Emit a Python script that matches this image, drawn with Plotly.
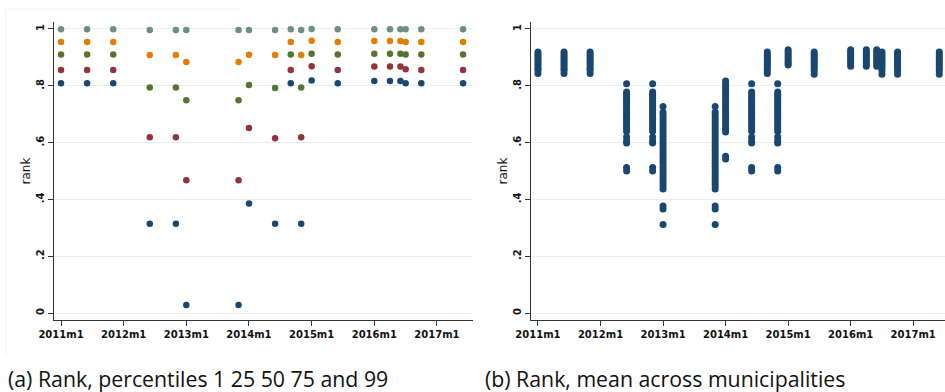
import plotly.graph_objects as go

W, H = 945, 392

# ---------------- data ----------------
dates = ["2011m1", "2011m6", "2011m11", "2012m6", "2012m11", "2013m1", "2013m11",
         "2014m1", "2014m6", "2014m9", "2014m11", "2015m1", "2015m6", "2016m1",
         "2016m4", "2016m6", "2016m7", "2016m10", "2017m6"]

p1 = [0.809, 0.809, 0.809, 0.314, 0.314, 0.028, 0.028, 0.386, 0.314, 0.809,
      0.314, 0.819, 0.809, 0.817, 0.817, 0.817, 0.809, 0.809, 0.809]
p25 = [0.856, 0.856, 0.856, 0.619, 0.619, 0.467, 0.467, 0.651, 0.615, 0.856,
       0.619, 0.869, 0.856, 0.868, 0.868, 0.868, 0.858, 0.856, 0.856]
p50 = [0.910, 0.910, 0.910, 0.794, 0.794, 0.749, 0.749, 0.803, 0.792, 0.910,
       0.794, 0.913, 0.910, 0.913, 0.913, 0.913, 0.910, 0.910, 0.910]
p75 = [0.954, 0.954, 0.954, 0.908, 0.908, 0.884, 0.884, 0.909, 0.908, 0.954,
       0.908, 0.959, 0.954, 0.958, 0.958, 0.958, 0.954, 0.954, 0.954]
p99 = [0.999, 0.999, 0.999, 0.996, 0.996, 0.996, 0.996, 0.996, 0.996, 0.999,
       0.996, 1.000, 0.999, 0.999, 0.999, 0.999, 0.999, 0.999, 0.999]

# mean rank across municipalities, one list per date
mean_2011m1 = [0.919, 0.912, 0.905, 0.898, 0.891, 0.884, 0.877, 0.870, 0.862, 0.855, 0.843]
mean_2011m6 = [0.919, 0.912, 0.905, 0.898, 0.891, 0.884, 0.877, 0.870, 0.862, 0.855, 0.843]
mean_2011m11 = [0.919, 0.912, 0.905, 0.898, 0.891, 0.884, 0.877, 0.870, 0.862, 0.855, 0.843]
mean_2012m6 = [0.807, 0.778, 0.770, 0.762, 0.754, 0.746, 0.738, 0.730, 0.722, 0.714, 0.706,
               0.698, 0.690, 0.682, 0.674, 0.666, 0.658, 0.650, 0.640, 0.620, 0.606, 0.599,
               0.512, 0.500]
mean_2012m11 = [0.807, 0.778, 0.770, 0.762, 0.754, 0.746, 0.738, 0.730, 0.722, 0.714, 0.706,
                0.698, 0.690, 0.682, 0.674, 0.666, 0.658, 0.650, 0.640, 0.620, 0.606, 0.599,
                0.512, 0.500]
mean_2013m1 = [0.727, 0.707, 0.697, 0.687, 0.677, 0.667, 0.657, 0.647, 0.637, 0.627, 0.617,
               0.607, 0.597, 0.587, 0.577, 0.567, 0.557, 0.547, 0.537, 0.527, 0.517, 0.507,
               0.497, 0.487, 0.477, 0.467, 0.457, 0.447, 0.437, 0.377, 0.366, 0.312]
mean_2013m11 = [0.727, 0.707, 0.697, 0.687, 0.677, 0.667, 0.657, 0.647, 0.637, 0.627, 0.617,
                0.607, 0.597, 0.587, 0.577, 0.567, 0.557, 0.547, 0.537, 0.527, 0.517, 0.507,
                0.497, 0.487, 0.477, 0.467, 0.457, 0.447, 0.437, 0.377, 0.366, 0.312]
mean_2014m1 = [0.817, 0.807, 0.797, 0.787, 0.777, 0.767, 0.757, 0.747, 0.737, 0.727, 0.717,
               0.707, 0.697, 0.687, 0.677, 0.667, 0.657, 0.647, 0.637, 0.552, 0.542]
mean_2014m6 = [0.807, 0.778, 0.770, 0.762, 0.754, 0.746, 0.738, 0.730, 0.722, 0.714, 0.706,
               0.698, 0.690, 0.682, 0.674, 0.666, 0.658, 0.650, 0.640, 0.620, 0.606, 0.599,
               0.512, 0.500]
mean_2014m9 = [0.919, 0.912, 0.905, 0.898, 0.891, 0.884, 0.877, 0.870, 0.862, 0.855, 0.843]
mean_2014m11 = [0.807, 0.778, 0.770, 0.762, 0.754, 0.746, 0.738, 0.730, 0.722, 0.714, 0.706,
                0.698, 0.690, 0.682, 0.674, 0.666, 0.658, 0.650, 0.640, 0.620, 0.606, 0.599,
                0.512, 0.500]
mean_2015m1 = [0.927, 0.920, 0.913, 0.906, 0.899, 0.892, 0.885, 0.878, 0.873]
mean_2015m6 = [0.919, 0.912, 0.905, 0.898, 0.891, 0.884, 0.877, 0.870, 0.862, 0.853, 0.841]
mean_2016m1 = [0.927, 0.920, 0.913, 0.906, 0.899, 0.892, 0.885, 0.877, 0.869]
mean_2016m4 = [0.927, 0.920, 0.913, 0.906, 0.899, 0.892, 0.885, 0.877, 0.869]
mean_2016m6 = [0.927, 0.920, 0.913, 0.906, 0.899, 0.892, 0.885, 0.877, 0.869]
mean_2016m7 = [0.919, 0.912, 0.905, 0.898, 0.891, 0.884, 0.877, 0.870, 0.862, 0.853, 0.841]
mean_2016m10 = [0.919, 0.912, 0.905, 0.898, 0.891, 0.884, 0.877, 0.870, 0.862, 0.853, 0.841]
mean_2017m6 = [0.919, 0.912, 0.905, 0.898, 0.891, 0.884, 0.877, 0.870, 0.862, 0.853, 0.841]

mean_by_date = [mean_2011m1, mean_2011m6, mean_2011m11, mean_2012m6, mean_2012m11,
                mean_2013m1, mean_2013m11, mean_2014m1, mean_2014m6, mean_2014m9,
                mean_2014m11, mean_2015m1, mean_2015m6, mean_2016m1, mean_2016m4,
                mean_2016m6, mean_2016m7, mean_2016m10, mean_2017m6]

tick_labels = ["2011m1", "2012m1", "2013m1", "2014m1", "2015m1", "2016m1", "2017m1"]
y_ticks = [0, 0.2, 0.4, 0.6, 0.8, 1.0]
y_tick_labels = ["0", ".2", ".4", ".6", ".8", "1"]


def month_index(s):
    yr, mo = s.split("m")
    return (int(yr) - 2011) * 12 + int(mo) - 1


x_dates = [month_index(d) for d in dates]
tick_vals = [month_index(t) for t in tick_labels]

NAVY = "#1a476f"
MAROON = "#90353b"
GREEN = "#55752f"
ORANGE = "#e37e00"
TEAL = "#6e8e84"

fig = go.Figure()

series = [(p1, NAVY), (p25, MAROON), (p50, GREEN), (p75, ORANGE), (p99, TEAL)]
for vals, col in series:
    fig.add_trace(go.Scatter(x=x_dates, y=vals, mode="markers",
                             marker=dict(color=col, size=6.5, line=dict(width=0)),
                             xaxis="x", yaxis="y", showlegend=False, hoverinfo="skip"))

bx, by = [], []
for d, vals in zip(x_dates, mean_by_date):
    bx += [d] * len(vals)
    by += vals
fig.add_trace(go.Scatter(x=bx, y=by, mode="markers",
                         marker=dict(color=NAVY, size=7, line=dict(width=0)),
                         xaxis="x2", yaxis="y2", showlegend=False, hoverinfo="skip"))


def px_x(p):
    return p / W


def px_y(p):
    return (H - p) / H


tickfont = dict(family="DejaVu Sans", size=10, color="#111111", weight="bold")
axis_common = dict(showline=True, linecolor="#333333", linewidth=1.2, ticks="outside",
                   ticklen=5, tickwidth=1.1, tickcolor="#333333", tickfont=tickfont,
                   zeroline=False, automargin=False)

xcommon = dict(axis_common, tickvals=tick_vals, ticktext=tick_labels, showgrid=False)
ycommon = dict(axis_common, tickvals=y_ticks, ticktext=y_tick_labels, tickangle=-90,
               range=[-0.0246, 1.0246], showgrid=True, gridcolor="#e8eff2", gridwidth=1,
               title=dict(text="rank",
                          font=dict(family="DejaVu Sans", size=12, color="#111111"),
                          standoff=1))

yd = [px_y(320), px_y(22)]

cap_font = dict(family="Open Sans", size=21.3, color="#111111")

fig.update_layout(
    width=W, height=H, margin=dict(l=0, r=0, t=0, b=0, autoexpand=False),
    paper_bgcolor="white", plot_bgcolor="white",
    xaxis=dict(xcommon, domain=[px_x(54), px_x(473)], range=[-1.34, 78.9], anchor="y"),
    yaxis=dict(ycommon, domain=yd, anchor="x"),
    xaxis2=dict(xcommon, domain=[px_x(531), 1.0], range=[-1.34, 78.1], anchor="y2"),
    yaxis2=dict(ycommon, domain=yd, anchor="x2"),
    annotations=[
        dict(text="(a) Rank, percentiles 1 25 50 75 and 99", xref="paper", yref="paper",
             x=px_x(6), y=px_y(378), xanchor="left", yanchor="middle", showarrow=False,
             font=cap_font),
        dict(text="(b) Rank, mean across municipalities", xref="paper", yref="paper",
             x=px_x(483), y=px_y(378), xanchor="left", yanchor="middle", showarrow=False,
             font=cap_font),
    ],
    shapes=[
        dict(type="line", xref="paper", yref="paper", x0=px_x(6), x1=px_x(6),
             y0=px_y(9), y1=px_y(355), line=dict(color="#eef2f5", width=1)),
        dict(type="line", xref="paper", yref="paper", x0=px_x(6), x1=px_x(240),
             y0=px_y(9), y1=px_y(9), line=dict(color="#eef2f5", width=1)),
    ],
)

fig.write_html("out.html",
               config={"displayModeBar": False},
               post_script="document.body.style.margin='0';"
                           "document.body.style.padding='0';"
                           "document.body.style.overflow='hidden';")
